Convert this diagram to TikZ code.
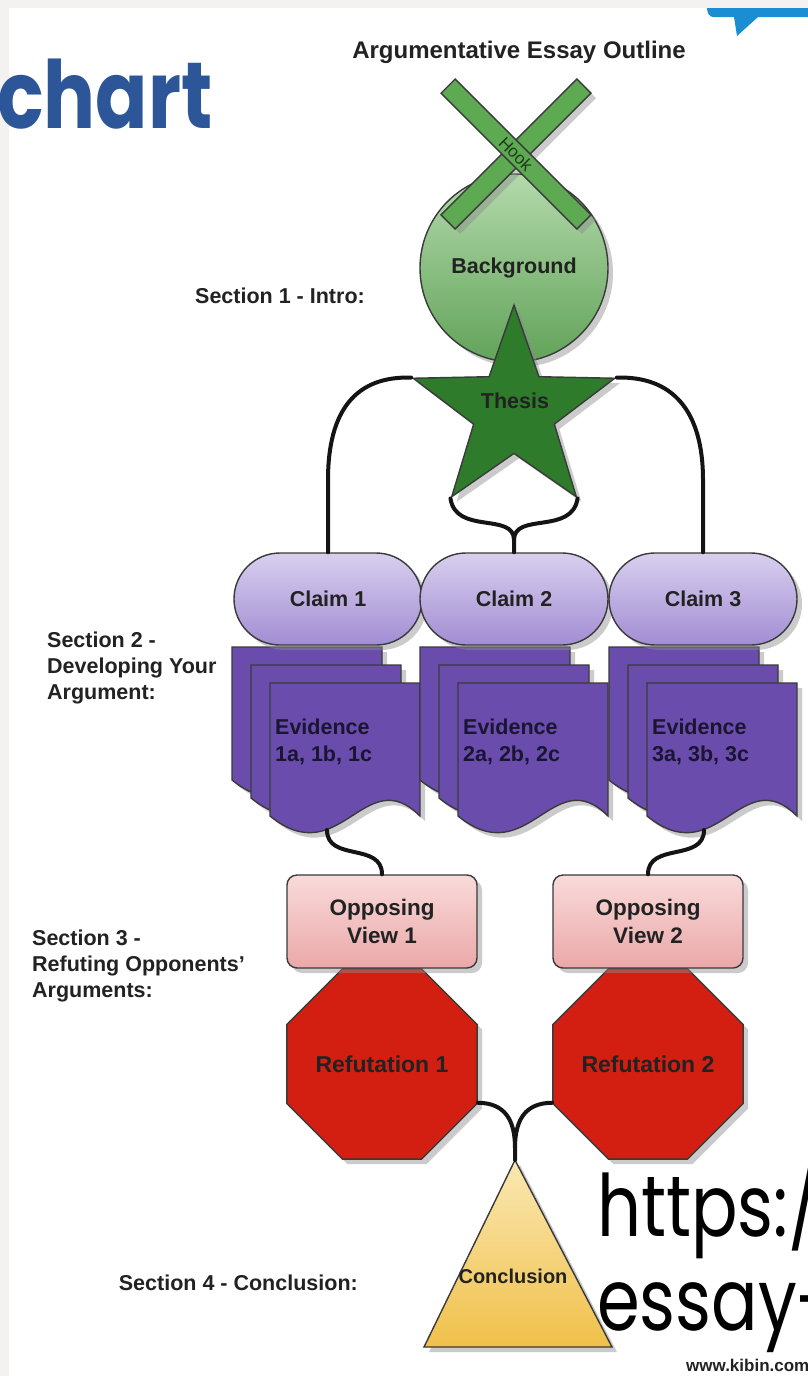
\documentclass[tikz,border=0pt]{standalone}
\usepackage{fontspec}
\setmainfont{Liberation Sans}
\newfontfamily\geo{Poppins}
\usetikzlibrary{shapes.geometric,shapes.misc,shadows}
\definecolor{strip}{HTML}{F4F1F1}
\definecolor{bubble}{HTML}{1B8ED3}
\definecolor{chartblue}{HTML}{2C5697}
\definecolor{txt}{HTML}{222222}
\definecolor{edge}{HTML}{3A3A3A}
\definecolor{hook}{HTML}{5DAA52}
\definecolor{hooktxt}{HTML}{1C3A18}
\definecolor{bgtop}{HTML}{B3D9AB}
\definecolor{bgbot}{HTML}{62A35A}
\definecolor{thesis}{HTML}{2E7B2C}
\definecolor{claimtop}{HTML}{D8CFEF}
\definecolor{claimbot}{HTML}{A28DD3}
\definecolor{evid}{HTML}{6A4CAD}
\definecolor{evtxt}{HTML}{1A1530}
\definecolor{optop}{HTML}{F9DADA}
\definecolor{opbot}{HTML}{EBA8A8}
\definecolor{reffill}{HTML}{D21F12}
\definecolor{contop}{HTML}{FAE8B2}
\definecolor{conbot}{HTML}{F0C04A}
\tikzset{
  shp/.style={draw=edge, line width=1.4pt},
  shd/.style={drop shadow={shadow xshift=5pt, shadow yshift=-5pt, fill=black!45, opacity=.45}},
  conn/.style={draw=black!92, line width=4pt, line cap=round},
  dtext/.style={font=\bfseries\fontsize{21.5}{27}\selectfont, text=txt, inner sep=0, align=center},
  lbl/.style={font=\bfseries\fontsize{21.5}{26}\selectfont, text=txt, inner sep=0, align=left},
  claimbox/.style={shp, shd, rounded rectangle, minimum width=188, minimum height=92, inner sep=0, top color=claimtop, bottom color=claimbot, dtext},
  opbox/.style={shp, shd, rectangle, rounded corners=10pt, minimum width=190, minimum height=93, inner sep=0, top color=optop, bottom color=opbot, dtext, font=\bfseries\fontsize{22.5}{28}\selectfont},
  refbox/.style={shp, shd, regular polygon, regular polygon sides=8, minimum size=206, inner sep=0, fill=reffill, dtext, font=\bfseries\fontsize{23}{28}\selectfont},
  hookbar/.style={shp, shd, rectangle, minimum width=192, minimum height=20, inner sep=0, fill=hook},
  docshape/.style={shp, shd, fill=evid},
  urltext/.style={anchor=base west, inner sep=0, font=\geo\fontsize{86}{94}\selectfont, text=black, xscale=0.8},
}
\newcommand\evdoc[3]{%
  \begin{scope}[shift={(#1,#2)}]
    \path[docshape] (0,0) -- (150,0) -- (150,133) .. controls (95,78) and (70,190) .. (0,133) -- cycle;
    \coordinate (#3) at (57,147);
  \end{scope}}
\begin{document}
\begin{tikzpicture}[x=1pt,y=-1pt]
\useasboundingbox (0,0) rectangle (808,1376);
\fill[white] (0,0) rectangle (808,1376);
\fill[strip] (0,0) rectangle (808,8);
\fill[strip] (0,0) rectangle (9,1376);
% blue speech bubble corner
\fill[bubble] (707,8) -- (808,8) -- (808,17) -- (758,17) -- (737,36) -- (734,17) -- (713,17) .. controls (709,17) and (707,12) .. (707,8) -- cycle;
% slide title fragment
\node[anchor=base west, inner sep=0, text=chartblue, font=\geo\bfseries\fontsize{94}{94}\selectfont, xscale=0.82] (chart) at (-3,128) {chart};
% diagram title
\node[font=\bfseries\fontsize{24}{28}\selectfont, text=txt, inner sep=0] (title) at (519,52) {Argumentative Essay Outline};

% Section 1
\node[shp, shd, circle, minimum size=188, inner sep=0, top color=bgtop, bottom color=bgbot, dtext] (bg) at (514,268) {Background};
\node[hookbar, rotate=45] (hookb) at (516,154) {};
\node[hookbar, rotate=-45, font=\fontsize{17}{17}\selectfont, text=hooktxt] (hook) at (516,154) {Hook};
\node[shp, shd, star, star points=5, star point ratio=2.5, minimum size=212, inner sep=0, fill=thesis] (thesis) at (514,411) {};
\node[dtext] (thesislbl) at (515,401) {Thesis};

% Section 2: evidence stacks
\evdoc{232}{647}{e1a}\evdoc{251}{665}{e1b}\evdoc{270}{683}{e1}
\evdoc{420}{647}{e2a}\evdoc{439}{665}{e2b}\evdoc{458}{683}{e2}
\evdoc{609}{647}{e3a}\evdoc{628}{665}{e3b}\evdoc{647}{683}{e3}
\node[dtext, align=left, anchor=west, text=evtxt] (ev1) at (275,742) {Evidence\\1a, 1b, 1c};
\node[dtext, align=left, anchor=west, text=evtxt] (ev2) at (463,742) {Evidence\\2a, 2b, 2c};
\node[dtext, align=left, anchor=west, text=evtxt] (ev3) at (652,742) {Evidence\\3a, 3b, 3c};
% claims
\node[claimbox] (c1) at (328,599) {Claim 1};
\node[claimbox] (c2) at (514,599) {Claim 2};
\node[claimbox] (c3) at (703,599) {Claim 3};

% Section 3
\node[refbox] (ref1) at (382,1064) {Refutation 1};
\node[refbox] (ref2) at (648,1064) {Refutation 2};
\node[opbox] (op1) at (382,921.5) {Opposing\\View 1};
\node[opbox] (op2) at (648,921.5) {Opposing\\View 2};

% Section 4
\coordinate (capex) at (515,1160);
\coordinate (cbr) at (612,1347);
\coordinate (cbl) at (424,1347);
\path[shp, shd, top color=contop, bottom color=conbot] (capex) -- (cbr) -- (cbl) -- cycle;
\node[dtext, font=\bfseries\fontsize{20}{24}\selectfont] (concl) at (513,1276) {Conclusion};

% connectors
\draw[conn] (thesis.outer point 2) .. controls (356,376) and (328,410) .. (328,480) -- (c1.north);
\draw[conn] (thesis.outer point 5) .. controls (672,376) and (703,410) .. (703,480) -- (c3.north);
\draw[conn] (thesis.outer point 3) .. controls (456,535) and (514,512) .. (514,540) -- (c2.north);
\draw[conn] (thesis.outer point 4) .. controls (572,535) and (514,512) .. (514,540);
\draw[conn] (e1) .. controls (327,862) and (382,842) .. (op1.north);
\draw[conn] (e3) .. controls (704,862) and (648,842) .. (op2.north);
\draw[conn] (ref1.-22.5) .. controls (505,1103) and (515,1120) .. (515,1148) -- (capex);
\draw[conn] (ref2.202.5) .. controls (525,1103) and (515,1120) .. (515,1148);

% section labels
\node[lbl, anchor=east] (s1) at (365,296) {Section 1 - Intro:};
\node[lbl, anchor=west] (s2) at (47,668) {Section 2 -\\Developing Your\\Argument:};
\node[lbl, anchor=west] (s3) at (32,966) {Section 3 -\\Refuting Opponents'\\Arguments:};
\node[lbl, anchor=east] (s4) at (358,1283) {Section 4 - Conclusion:};

% overlaid URL text
\node[urltext] (url1) at (597,1236) {https:/};
\node[urltext] (url2) at (597,1330) {essay-};
\node[anchor=base west, inner sep=0, font=\bfseries\fontsize{17}{18}\selectfont, text=txt] (kibin) at (686,1371) {www.kibin.com};
\end{tikzpicture}
\end{document}
